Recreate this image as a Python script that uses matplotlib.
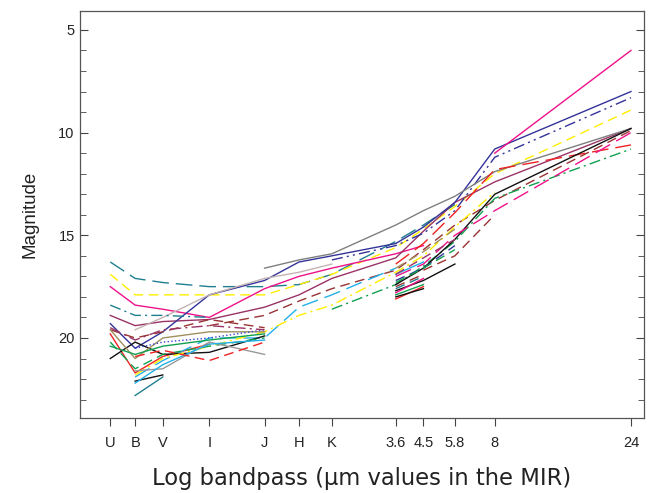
import numpy as np
import matplotlib.pyplot as plt

plt.rcParams['font.family'] = ['Liberation Sans', 'DejaVu Sans']

# band centres (micron) and their labels
wavelengths = [0.36, 0.44, 0.55, 0.80, 1.25, 1.65, 2.15, 3.6, 4.5, 5.8, 8.0, 24.0]
band_labels = ["U", "B", "V", "I", "J", "H", "K", "3.6", "4.5", "5.8", "8", "24"]

N = np.nan
# magnitudes per object, one value per band (nan = no data)
mags_teal_top   = [16.3, 17.1, 17.3, 17.5, 17.5, 17.4, 16.9, 15.3, 14.5, 13.5, N, N]
mags_yellow_top = [16.9, 17.9, 17.9, 17.9, 17.9, 17.4, 16.9, 15.6, 14.7, 13.6, 12.0, 8.9]
mags_pink_top   = [17.5, 18.4, 18.6, 19.0, 17.6, 17.0, 16.6, 15.9, 15.5, N, N, N]
mags_maroon     = [18.9, 19.4, 19.2, 19.1, 18.5, 17.9, 17.1, 16.1, 14.8, 13.4, 12.4, 9.8]
mags_navy       = [19.3, 20.5, 19.7, 17.9, 17.2, 16.3, 16.0, 15.4, 14.6, 13.4, 10.8, 8.0]
mags_navy_dd    = [N, N, N, N, N, N, 16.2, 15.5, 14.9, 13.8, 11.2, 8.3]
mags_pink_mir   = [N, N, N, N, N, N, N, N, N, N, 11.0, 6.0]
mags_gray       = [N, N, N, N, 16.6, 16.2, 15.9, 14.5, 13.8, 13.1, 11.9, 9.8]
mags_silver     = [N, 19.6, 19.0, 17.9, 17.1, 16.8, 16.4, N, N, N, N, N]
mags_teal_dd    = [18.4, 18.9, 18.9, 19.0, N, N, N, N, N, N, N, N]
mags_brown_opt  = [19.6, 20.0, 19.7, 19.1, 19.5, N, N, N, N, N, N, N]
mags_brown_ir   = [N, N, N, 19.4, 18.9, 18.2, 17.6, 16.7, 15.7, 14.5, 13.3, 9.9]
mags_red_opt    = [19.8, 21.7, 20.9, 20.3, N, N, N, N, N, N, N, N]
mags_red_ir     = [N, N, N, N, N, N, N, 16.4, 15.4, 13.9, 11.8, 10.6]
mags_green_dd   = [N, N, N, N, N, N, 18.6, 17.4, 16.5, 15.3, 13.2, 10.8]
mags_sky        = [N, 21.9, 21.1, 20.0, 20.0, 18.5, 17.9, 16.6, N, N, N, N]
mags_black_opt  = [21.0, 20.2, 20.8, 20.7, 19.9, N, N, N, N, N, N, N]
mags_black_ir   = [N, N, N, N, N, N, N, 17.4, 16.6, 15.2, 13.0, 9.8]
mags_pink_ir    = [N, N, N, N, N, N, N, 17.0, 16.4, 15.0, 13.8, 10.0]
mags_yellow_dd  = [N, 21.8, 21.0, 20.4, 19.7, 18.9, 18.4, 16.8, 16.0, 14.6, 12.9, N]
mags_olive      = [19.6, 21.0, 20.0, 19.7, 19.7, N, N, N, N, N, N, N]
mags_green      = [20.4, 20.8, 20.4, 20.1, 19.8, N, N, N, N, N, N, N]
mags_green_dash = [20.2, 21.5, 20.8, 20.4, 20.0, N, N, N, N, N, N, N]
mags_blue_dot   = [N, 20.5, 20.2, 20.0, 19.6, N, N, N, N, N, N, N]
mags_gray_low   = [N, 21.6, 21.5, 20.2, 20.8, N, N, N, N, N, N, N]
mags_teal_low   = [N, 22.8, 21.9, N, N, N, N, N, N, N, N, N]
mags_black_low  = [N, 22.1, 21.8, N, N, N, N, N, N, N, N, N]
mags_sky_low    = [N, 22.2, 21.3, 20.3, 20.1, N, N, N, N, N, N, N]
mags_maroon_dd  = [19.5, 20.1, 19.6, 19.4, 19.6, N, N, N, N, N, N, N]
mags_red_mid    = [N, 20.9, 20.6, 21.1, 20.2, N, N, N, N, N, N, N]
mags_brown_mid  = [N, N, N, N, N, N, N, N, 16.7, 16.0, 14.0, N]

# IRAC-only objects (3.6, 4.5, 5.8)
irac_36 = [17.9, 17.6, 18.1, 17.2, 16.9, 17.5, 17.7, 16.6, 17.8, 17.3, 18.0, 16.9]
irac_45 = [17.4, 17.0, 17.5, 16.6, 16.3, 16.9, 17.2, 15.8, 17.1, 16.6, 17.6, 16.1]
irac_58 = [N, N, N, 15.5, N, N, 16.4, 14.7, N, 15.7, N, 15.2]
irac_colors = ["#11a050", "#1f7f8f", "#ee2222", "#333399", "#22b0e8", "#993333",
               "#111111", "#a09060", "#ee1188", "#11a050", "#111111", "#993366"]

dash = (0, (7, 4))
longdash = (0, (12, 5))
dashdot = (0, (8, 3, 1.5, 3))
dashdotdot = (0, (8, 3, 1.5, 3, 1.5, 3))

series = [
    (mags_teal_top, "#1f7f8f", longdash),
    (mags_yellow_top, "#ffee00", dash),
    (mags_pink_top, "#ee1188", "-"),
    (mags_maroon, "#993366", "-"),
    (mags_navy, "#333399", "-"),
    (mags_navy_dd, "#333399", dashdotdot),
    (mags_pink_mir, "#ee1188", "-"),
    (mags_gray, "#7f7f7f", "-"),
    (mags_silver, "#c4b4b4", "-"),
    (mags_teal_dd, "#1f7f8f", dashdot),
    (mags_brown_opt, "#993333", dash),
    (mags_brown_ir, "#993333", dash),
    (mags_red_opt, "#ee2222", "-"),
    (mags_red_ir, "#ee2222", longdash),
    (mags_green_dd, "#11a050", dashdot),
    (mags_sky, "#22b0e8", longdash),
    (mags_black_opt, "#111111", "-"),
    (mags_black_ir, "#111111", "-"),
    (mags_pink_ir, "#ee1188", longdash),
    (mags_yellow_dd, "#ffee00", dashdot),
    (mags_olive, "#a09060", "-"),
    (mags_green, "#11a050", "-"),
    (mags_green_dash, "#11a050", dash),
    (mags_blue_dot, "#3344cc", ":"),
    (mags_gray_low, "#999999", "-"),
    (mags_teal_low, "#1f7f8f", "-"),
    (mags_black_low, "#111111", "-"),
    (mags_sky_low, "#22b0e8", "-"),
    (mags_maroon_dd, "#993366", dashdot),
    (mags_red_mid, "#ee2222", dash),
    (mags_brown_mid, "#993333", dash),
]

fig = plt.figure(figsize=(6.52, 4.93), dpi=100)
ax = fig.add_axes([0.122, 0.152, 0.866, 0.826])

wl = np.array(wavelengths)
for vals, col, ls in series:
    ax.plot(wl, vals, color=col, ls=ls, lw=1.0)

for i in range(len(irac_36)):
    ax.plot(wl[7:10], [irac_36[i], irac_45[i], irac_58[i]],
            color=irac_colors[i], ls=dash if i % 2 else "-", lw=1.0)

ax.set_xscale('log')
ax.set_xlim(0.281, 26.7)
ax.set_ylim(23.9, 4.07)
ax.set_xticks(wavelengths)
ax.set_xticklabels(band_labels)
ax.minorticks_off()
ax.set_yticks([5, 10, 15, 20])
ax.set_yticks(np.arange(5, 24), minor=True)
ax.tick_params(axis='y', which='both', direction='in', left=True, right=True, labelsize=10.5,
               colors='#444444', labelcolor='#222222')
ax.tick_params(axis='y', which='major', length=6)
ax.tick_params(axis='y', which='minor', length=4)
ax.tick_params(axis='x', which='major', direction='out', length=6, labelsize=10.5, pad=7,
               colors='#444444', labelcolor='#222222')

for s in ax.spines.values():
    s.set_color('#555555')
    s.set_linewidth(0.9)

ax.set_xlabel("Log bandpass (\u03bcm values in the MIR)", fontsize=16.3,
              family=['DejaVu Sans'], labelpad=12, color='#222222')
ax.set_ylabel("Magnitude", fontsize=13.5, labelpad=14, color='#222222')

fig.savefig("out.png", dpi=100)
